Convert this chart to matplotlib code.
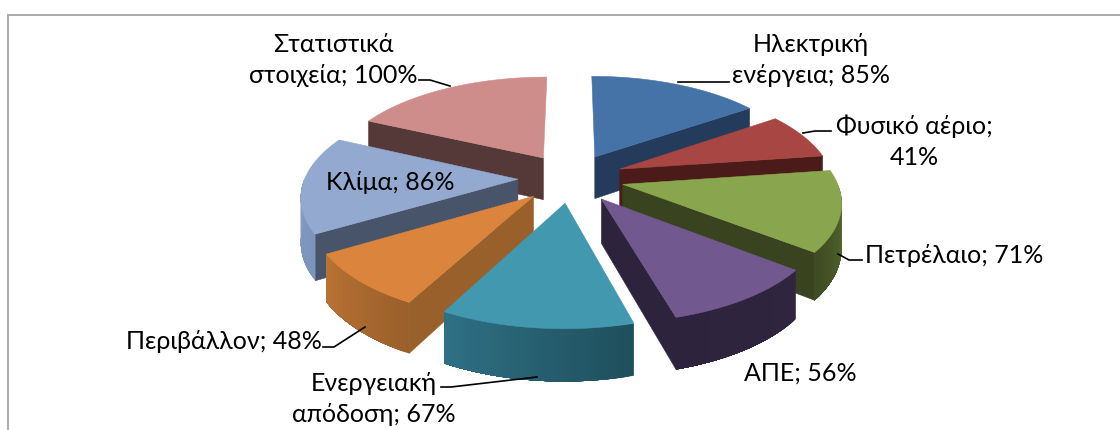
import numpy as np
import matplotlib
matplotlib.use('Agg')
import matplotlib.pyplot as plt
from matplotlib.colors import to_rgb

# data
categories = ['Ηλεκτρική\nενέργεια', 'Φυσικό αέριο', 'Πετρέλαιο', 'ΑΠΕ',
              'Ενεργειακή\nαπόδοση', 'Περιβάλλον', 'Κλίμα', 'Στατιστικά\nστοιχεία']
values = [85, 41, 71, 56, 67, 48, 86, 100]
seps = ['; ', ';\n', '; ', '; ', '; ', '; ', '; ', '; ']

# colours: top, radial wall, outer wall at start, outer wall at end
top_colors = ['#4573A7', '#A74643', '#89A54E', '#71588F', '#4198AF', '#DB843D', '#93A9CF', '#CE8D8B']
wall_colors = ['#243B5C', '#4A1B18', '#3A431F', '#2E233D', '#2A6375', '#99602B', '#48546A', '#553939']
outer_a = ['#243B5C', '#4A1B18', '#647A32', '#30253F', '#1F4F5C', '#9A602B', '#7C94BC', '#553939']
outer_b = ['#243B5C', '#4A1B18', '#3E4A22', '#2E233D', '#2F7186', '#BA7333', '#8AA0C8', '#553939']

# label centre, px
label_pos = [(811, 60), (914, 142), (954, 256), (800, 373), (374, 399), (224, 342), (390, 183), (333, 60)]
leaders = [
    [(729, 83), (678, 83)],
    [(831, 132), (815, 132), (803, 134)],
    [(862, 261), (849, 261), (838, 255)],
    [(537, 378), (451, 388), (441, 388)],
    [(323, 348), (334, 348), (365, 328)],
    None,
    None,
    [(419, 81), (430, 81), (450, 87)],
]

# pie geometry, px
cx, cy = 571, 179
R = 213
explode = 0.249
tilt = 0.462
persp = 0.1486
depth = 43

plt.rcParams['font.family'] = ['Lato', 'Noto Sans', 'DejaVu Sans']

fig = plt.figure(figsize=(11.2, 4.31), dpi=100)
ax = fig.add_axes([0, 0, 1, 1])
ax.set_xlim(0, 1120)
ax.set_ylim(431, 0)
ax.axis('off')

# frame
ax.plot([8, 8, 1120], [431, 15.5, 15.5], color='#A3A3A3', lw=1.3, solid_joinstyle='miter')


def project(X, Y, down=False):
    s = 1 / (1 + persp * Y)
    x = cx + R * X * s
    y = cy - R * tilt * Y * s
    if down:
        y = y + depth * s
    return x, y


def mix(c1, c2, f):
    a, b = np.array(to_rgb(c1)), np.array(to_rgb(c2))
    return tuple(a + (b - a) * f)


def draw_poly(pts, color, lw=0.4):
    xs = [p[0] for p in pts]
    ys = [p[1] for p in pts]
    ax.fill(xs, ys, color=color, lw=lw)


def draw_slice(i, t1, t2):
    tm = (t1 + t2) / 2
    ox = explode * np.sin(tm)
    oy = explode * np.cos(tm)

    def rim(t, down=False):
        return project(ox + np.sin(t), oy + np.cos(t), down)

    apex, apex_d = project(ox, oy), project(ox, oy, True)

    # radial walls, only those that face the viewer
    if np.cos(t1 - np.pi / 2) < 0:
        draw_poly([apex, rim(t1), rim(t1, True), apex_d], wall_colors[i])
    if np.cos(t2 + np.pi / 2) < 0:
        draw_poly([apex, rim(t2), rim(t2, True), apex_d], wall_colors[i])

    # outer wall with gradient, each strip runs to the slice end so no seams show
    n = 40
    ts = np.linspace(t1, t2, n + 1)
    for k in range(n):
        a = ts[k]
        if np.cos((a + ts[k + 1]) / 2) < 0:
            col = mix(outer_a[i], outer_b[i], k / n)
            arc = [t for t in ts[k:] if np.cos(t) < 0.02]
            if len(arc) < 2:
                continue
            pts = [rim(t) for t in arc] + [rim(t, True) for t in arc[::-1]]
            draw_poly(pts, col, lw=0)

    # top
    draw_poly([apex] + [rim(t) for t in ts], top_colors[i])


angles = np.cumsum([0] + values) / sum(values) * 2 * np.pi
order = [7, 0, 1, 6, 2, 5, 3, 4]
for i in order:
    draw_slice(i, angles[i], angles[i + 1])

for i in range(len(values)):
    if leaders[i]:
        ax.plot([p[0] for p in leaders[i]], [p[1] for p in leaders[i]], color='black', lw=1.2)
    ax.text(label_pos[i][0], label_pos[i][1], f'{categories[i]}{seps[i]}{values[i]}%',
            ha='center', va='center', fontsize=18, linespacing=1.42, color='black')

fig.savefig('out.png', dpi=100)
